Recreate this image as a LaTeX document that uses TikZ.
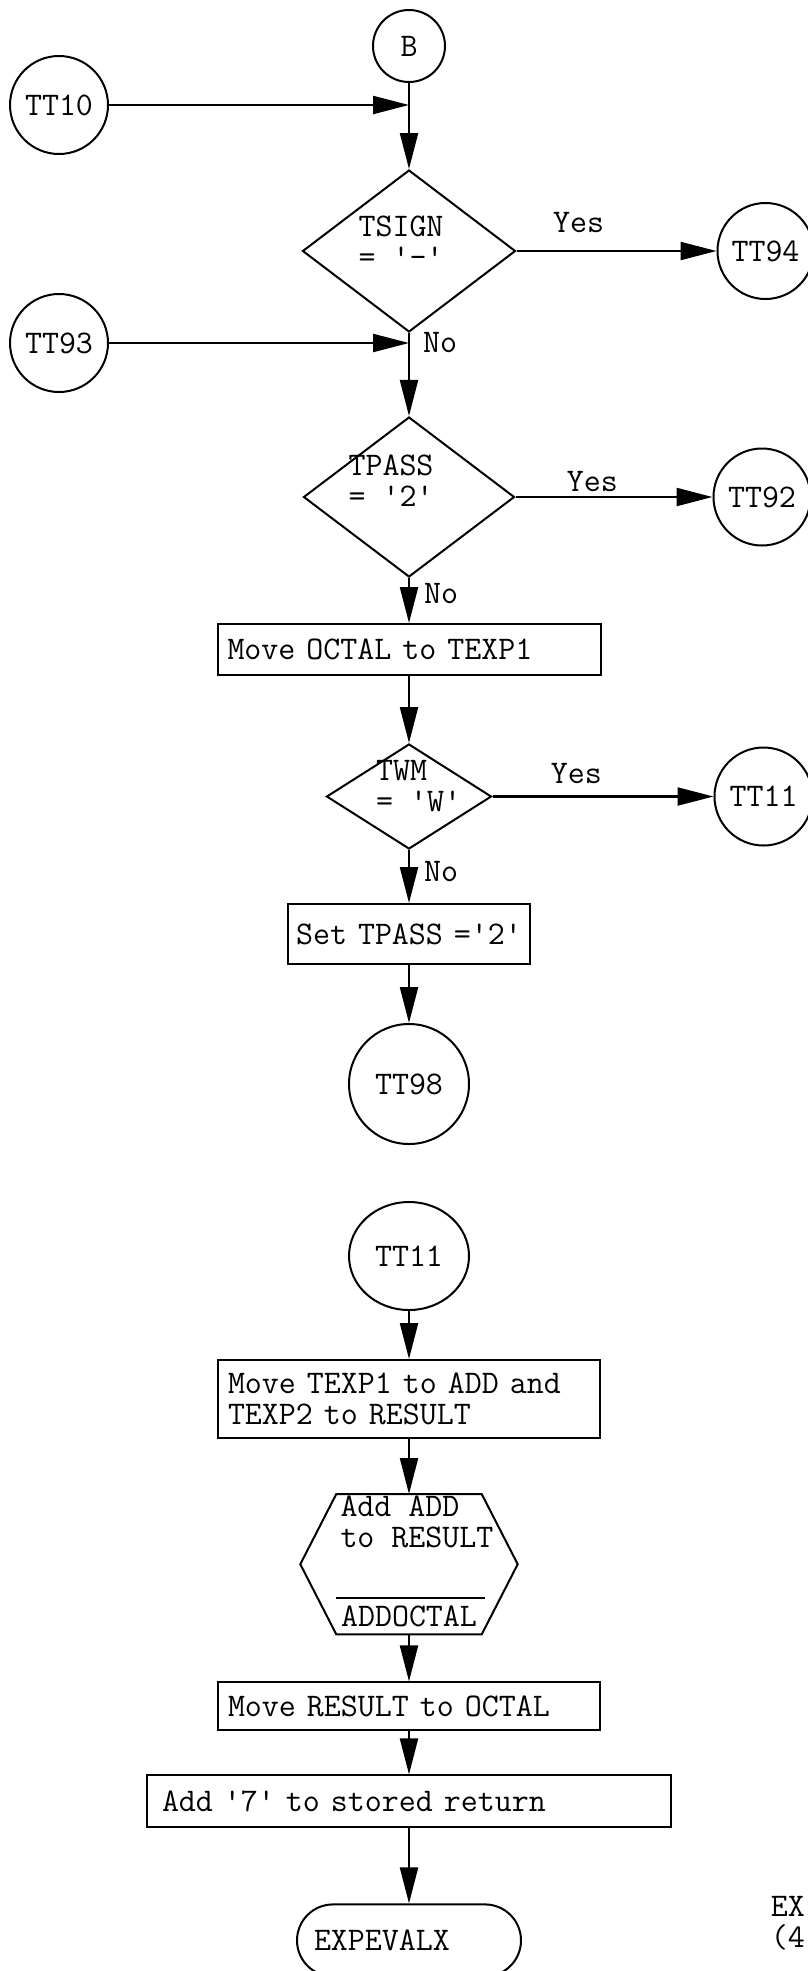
\documentclass[tikz,border=0pt]{standalone}
\usepackage{tikz}
\usetikzlibrary{positioning, arrows.meta, shapes.geometric}

\begin{document}
\begin{tikzpicture}[
    x=1pt, y=-1pt,
    font=\fontsize{33}{31}\selectfont\ttfamily,
    conn/.style={circle, draw, line width=2pt, minimum size=98pt, inner sep=0pt},
    dec/.style={diamond, draw, line width=2pt, inner sep=0pt},
    dectxt/.style={align=center, inner sep=2pt},
    block/.style={rectangle, draw, line width=2pt, align=left, inner xsep=10pt, inner ysep=4pt},
    arr/.style={-{Stealth[length=36pt, width=18pt, inset=0pt]}, line width=2.2pt},
    lbl/.style={inner sep=2pt},
]
\useasboundingbox (0,0) rectangle (807,1971);

% Main column, first page part
\node[conn, minimum size=72pt] (b) at (409,46) {B};
\node[dec, minimum width=213pt, minimum height=162pt, below=86pt of b] (tsign) {};
\node[dectxt] (tsigntxt) at ([xshift=-8pt, yshift=9pt]tsign.center) {TSIGN\\= \textquotesingle\textendash\textquotesingle};
\node[dec, minimum width=211pt, minimum height=160pt, below=83pt of tsign] (tpass) {};
\node[dectxt] (tpasstxt) at ([xshift=-18pt, yshift=16pt]tpass.center) {TPASS\\= \textquotesingle2\textquotesingle};
\node[block, text width=363pt, minimum height=51pt, below=45pt of tpass] (octal) {Move OCTAL to TEXP1};
\node[dec, minimum width=165pt, minimum height=105pt, below=67pt of octal] (twm) {};
\node[dectxt, align=left, anchor=west] (twmtxt) at ([xshift=-35pt, yshift=10pt]twm.center) {TWM\\= \textquotesingle W\textquotesingle};
\node[block, align=center, inner xsep=5pt, text width=232pt, minimum height=60pt, below=53pt of twm] (setpass) {Set TPASS =\textquotesingle2\textquotesingle};
\node[conn, minimum size=120pt, below=58pt of setpass] (tt98) {TT98};

% Side connectors
\node[conn] (tt10) at (59,105) {TT10};
\coordinate (jb) at (tt10 -| b);
\node[conn] (tt93) at (59,343) {TT93};
\coordinate (jn) at (tt93 -| tsign);
\node[conn, minimum size=96pt, right=200pt of tsign] (tt94) {TT94};
\node[conn, minimum size=97pt, right=197pt of tpass] (tt92) {TT92};
\node[conn, right=221pt of twm] (tt11out) {TT11};

% Main column, TT11 entry
\node[conn, ellipse, minimum width=120pt, minimum height=108pt, below=56pt of tt98] (tt11in) {TT11};
\node[block, text width=362pt, minimum height=78pt, below=48pt of tt11in] (texp) {Move TEXP1 to ADD and\\TEXP2 to RESULT};
\node[minimum width=145pt, minimum height=140pt, inner sep=0pt, below=55pt of texp] (hex) {};
\node[block, text width=362pt, minimum height=48pt, below=47pt of hex] (result) {Move RESULT to OCTAL};
\node[block, inner xsep=15pt, text width=494pt, minimum height=52pt, below=43pt of result] (add7) {Add \textquotesingle7\textquotesingle\ to stored return};
\node[rectangle, rounded corners=36pt, draw, line width=2pt, align=left, inner xsep=17pt, text width=190pt, minimum height=72pt, below=75pt of add7] (exit) {EXPEVALX};

% Hexagon of the add step
\draw[line width=2pt] (hex.north west) -- (hex.north east) -- ([xshift=36pt]hex.east) -- (hex.south east) -- (hex.south west) -- ([xshift=-36pt]hex.west) -- cycle;
\node[lbl, anchor=north west, align=left] (hextxt) at ([xshift=2pt]hex.north west) {Add ADD\\to RESULT};
\draw[line width=2pt] ([yshift=-104pt]hex.north west) -- ([yshift=-104pt, xshift=3pt]hex.north east);
\node[lbl, anchor=base] (hexname) at ([yshift=8pt]hex.south) {ADDOCTAL};

% Arrows
\draw[arr] (b) -- (tsign);
\draw[arr] (tt10) -- (jb);
\draw[arr] (tsign) -- node[lbl, above=15pt, pos=0.31] {Yes} (tt94);
\draw[arr] (tsign) -- (tpass);
\draw[arr] (tt93) -- (jn);
\node[lbl, right=12pt of jn] (no1) {No};
\draw[arr] (tpass) -- node[lbl, above=2pt, pos=0.39] {Yes} (tt92);
\draw[arr] (tpass) -- node[lbl, right=12pt, pos=0.35] {No} (octal);
\draw[arr] (octal) -- (twm);
\draw[arr] (twm) -- node[lbl, above=10pt, pos=0.38] {Yes} (tt11out);
\draw[arr] (twm) -- node[lbl, right=12pt, pos=0.4] {No} (setpass);
\draw[arr] (setpass) -- (tt98);
\draw[arr] (tt11in) -- (texp);
\draw[arr] (texp) -- (hex);
\draw[arr] (hex) -- (result);
\draw[arr] (result) -- (add7);
\draw[arr] (add7) -- (exit);

% Caption at the right edge
\node[lbl, anchor=east] (cap1) at (807,1906) {EX};
\node[lbl, anchor=east] (cap2) at (807,1937) {(4};

\end{tikzpicture}
\end{document}
